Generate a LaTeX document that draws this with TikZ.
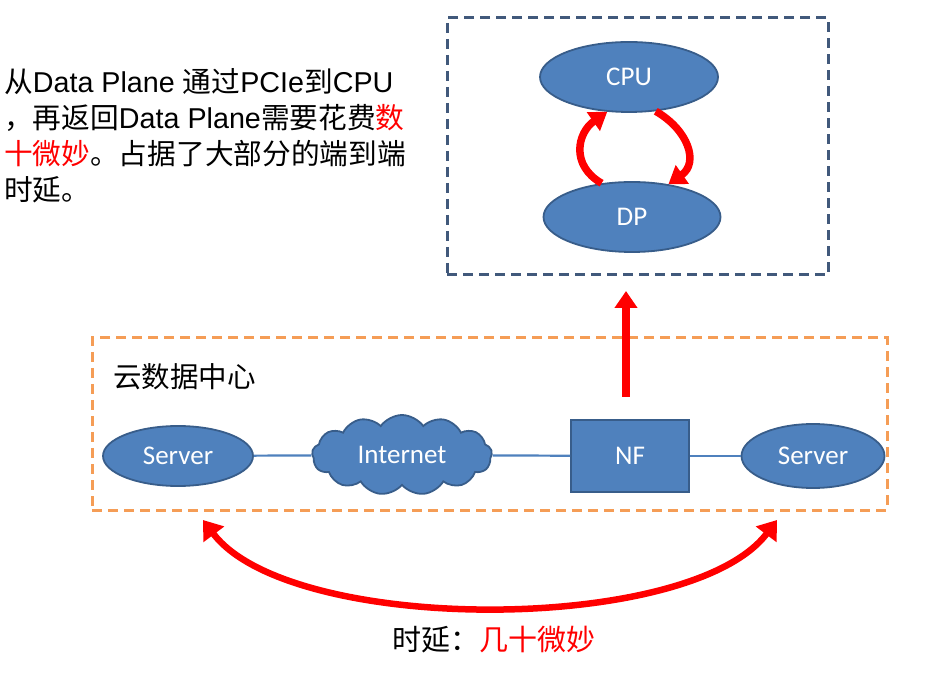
\documentclass[tikz,border=0pt]{standalone}
\usepackage{fontspec}
\setmainfont{Liberation Sans}
\newfontfamily\cjk{Noto Sans CJK SC}
\newfontfamily\calib{Carlito}
\usetikzlibrary{shapes.geometric,shapes.symbols,arrows.meta}
\definecolor{nodeblue}{HTML}{4F81BD}
\definecolor{nodeedge}{HTML}{385D8A}
\definecolor{boxblue}{HTML}{41597B}
\definecolor{boxorange}{HTML}{F59D56}
\newcommand{\zh}[1]{{\cjk #1}}
\newcommand{\hl}[1]{\textcolor{red}{#1}}

\begin{document}
\begin{tikzpicture}[x=1pt,y=1pt]
                        \tikzstyle{ell}=[ellipse, draw=nodeedge, line width=1.8pt, fill=nodeblue, text=white, inner sep=0pt, font=\calib\fontsize{27}{27}\selectfont]
                        \tikzstyle{dbox}=[draw, line width=3pt, dash pattern=on 10pt off 6pt, inner sep=0pt]
                        \tikzstyle{link}=[draw=nodeblue, line width=2.2pt]
                        \tikzstyle{redarrow}=[draw=red, line width=7.5pt, -{Triangle[width=22pt,length=17pt]}]
                        \useasboundingbox (0,0) rectangle (947,675);
                        % note on the left
                        \node[anchor=north west, align=left, inner sep=0pt, font=\fontsize{28.7}{36}\selectfont] (note) at (4,607)
                            {\zh{从}Data Plane \zh{通过}PCIe\zh{到}CPU\\
                             \zh{，再返回}Data Plane\zh{需要花费\hl{数}}\\
                             \zh{\hl{十微妙}。占据了大部分的端到端}\\
                             \zh{时延。}};
                        % host
                        \node[dbox, draw=boxblue, minimum width=381pt, minimum height=257pt] (host) at (637.5,528.5) {};
                        \node[ell, minimum width=178pt, minimum height=70pt] (cpu) at (629,598) {CPU};
                        \node[ell, minimum width=177pt, minimum height=70pt] (dp) at (632,458) {DP};
                        \draw[redarrow] (dp.132) to[out=150,in=-145,looseness=1.3] (cpu.238);
                        \draw[redarrow] (cpu.308) to[out=-30,in=35,looseness=1.3] (dp.42);
                        % data center
                        \node[dbox, draw=boxorange, minimum width=795pt, minimum height=172pt] (dc) at (489.5,251) {};
                        \node[anchor=west, inner sep=0pt, font=\cjk\fontsize{28.5}{28.5}\selectfont] (dctitle) at (113,298) {云数据中心};
                        \node[ell, minimum width=150pt, minimum height=60pt] (srv1) at (178,219) {Server};
                        \node[cloud, cloud puffs=13, cloud puff arc=110, aspect=2.2, draw=nodeedge, line width=1.8pt, fill=nodeblue, text=white,
                              inner sep=0pt, minimum width=180pt, minimum height=80pt, font=\calib\fontsize{27}{27}\selectfont] (inet) at (402,220) {Internet};
                        \node[draw=nodeedge, line width=1.8pt, fill=nodeblue, text=white, minimum width=118pt, minimum height=72pt,
                              inner sep=0pt, font=\calib\fontsize{27}{27}\selectfont] (nf) at (630,219) {NF};
                        \node[ell, minimum width=143pt, minimum height=64pt] (srv2) at (813,219) {Server};
                        \draw[link] (srv1) -- (inet);
                        \draw[link] (inet) -- (nf);
                        \draw[link] (nf) -- (srv2);
                        % up to the host
                        \coordinate (upfoot) at (626,278);
                        \coordinate (uptip) at (626,384);
                        \draw[redarrow] (upfoot) -- (uptip);
                        % end to end
                        \coordinate (left) at (203,155);
                        \coordinate (right) at (777,155);
                        \draw[draw=red, line width=6.5pt, {Triangle[width=25pt,length=18pt]}-{Triangle[width=25pt,length=18pt]}]
                            (left) .. controls (290,40) and (690,40) .. (right);
                        \node[font=\cjk\fontsize{29}{29}\selectfont] (delay) at (494,35) {时延：\hl{几十微妙}};
                    \end{tikzpicture}
\end{document}
